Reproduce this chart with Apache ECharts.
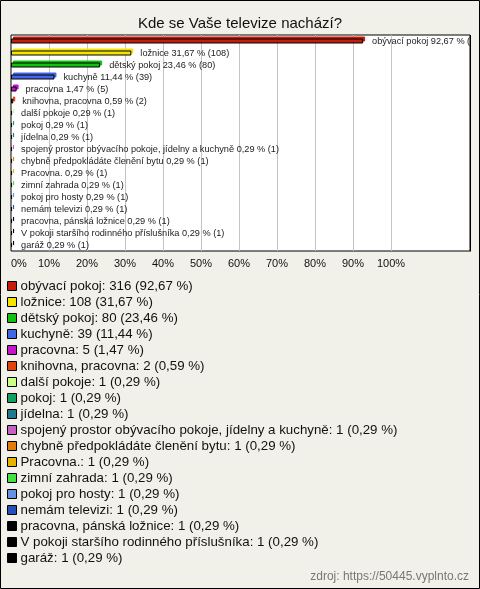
<!DOCTYPE html>
<html>
<head>
<meta charset="utf-8">
<script src="https://cdn.jsdelivr.net/npm/echarts@6/dist/echarts.min.js"></script>
<style>
html,body{margin:0;padding:0;background:#f2f1e9;}
#c{width:480px;height:589px;}
</style>
</head>
<body>
<div id="c"></div>
<script>
// ---- data ----
const categories = [
  'obývací pokoj','ložnice','dětský pokoj','kuchyně','pracovna','knihovna, pracovna',
  'další pokoje','pokoj','jídelna','spojený prostor obývacího pokoje, jídelny a kuchyně',
  'chybně předpokládáte členění bytu','Pracovna.','zimní zahrada','pokoj pro hosty',
  'nemám televizi','pracovna, pánská ložnice','V pokoji staršího rodinného příslušníka','garáž'
];
const counts = [316,108,80,39,5,2,1,1,1,1,1,1,1,1,1,1,1,1];
const percents = [92.67,31.67,23.46,11.44,1.47,0.59,0.29,0.29,0.29,0.29,0.29,0.29,0.29,0.29,0.29,0.29,0.29,0.29];
const colors = ['#c41e0a','#f5e400','#12c012','#4266e6','#c414cc','#e2420e','#c8ff84','#10a062',
  '#1e7a8c','#c462c4','#e27a10','#e8b200','#42e242','#6692e2','#2252b8','#000000','#000000','#000000'];
const xTicks = ['0%','10%','20%','30%','40%','50%','60%','70%','80%','90%','100%'];

const BG = '#f2f1e9';
const FONT = 'Liberation Sans, Arial, sans-serif';
const fmt = v => v.toFixed(2).replace('.', ',');

const series = categories.map((name, i) => {
  const data = categories.map((_, j) => j === i ? percents[i] : '-');
  return {
    name: name,
    type: 'bar',
    stack: 'all',
    barWidth: 5,
    data: data,
    itemStyle: {
      color: colors[i],
      borderColor: '#000',
      borderWidth: 1,
      shadowColor: colors[i],
      shadowBlur: 0,
      shadowOffsetX: 2,
      shadowOffsetY: -2
    },
    label: {
      show: true,
      position: 'right',
      distance: 9,
      fontSize: 9.2,
      fontFamily: FONT,
      color: '#222',
      formatter: () => name + ' ' + fmt(percents[i]) + ' % (' + counts[i] + ')'
    },
    emphasis: { disabled: true }
  };
});

const chart = echarts.init(document.getElementById('c'), null, { renderer: 'canvas' });
chart.setOption({
  backgroundColor: BG,
  animation: false,
  title: [
    {
      text: 'Kde se Vaše televize nachází?',
      left: 'center',
      top: 11,
      textStyle: { fontSize: 15, fontWeight: 'normal', color: '#111', fontFamily: FONT }
    },
    {
      text: 'zdroj: https://50445.vyplnto.cz',
      right: 11,
      bottom: 6,
      padding: 0,
      textStyle: { fontSize: 12, fontWeight: 'normal', color: '#777', fontFamily: FONT }
    }
  ],
  grid: {
    left: 11, right: 10, top: 35, height: 216,
    show: true, backgroundColor: '#fff', borderColor: '#000', borderWidth: 1,
    containLabel: false
  },
  xAxis: {
    type: 'value',
    min: 0, max: 120.8, interval: 10,
    axisLine: { show: false },
    axisTick: { show: false },
    axisLabel: {
      margin: 7,
      fontSize: 11,
      color: '#111',
      fontFamily: FONT,
      alignMinLabel: 'left',
      formatter: v => { const k = Math.round(v / 10); return (Math.abs(v - k * 10) < 1e-6 && k < xTicks.length) ? xTicks[k] : ''; }
    },
    splitLine: {
      show: true,
      lineStyle: {
        color: ['transparent','#c4c4c4','#c4c4c4','#c4c4c4','#c4c4c4','#c4c4c4','#c4c4c4','#c4c4c4','#c4c4c4','#c4c4c4','#c4c4c4','transparent','transparent','transparent'],
        width: 1
      }
    }
  },
  yAxis: {
    type: 'category',
    inverse: true,
    data: categories,
    axisLine: { show: false },
    axisTick: { show: false },
    axisLabel: { show: false },
    splitLine: { show: false }
  },
  legend: {
    orient: 'vertical',
    left: 7,
    top: 278,
    padding: 0,
    itemGap: 0,
    itemWidth: 9,
    itemHeight: 9,
    icon: 'rect',
    selectedMode: false,
    data: categories,
    itemStyle: { borderColor: '#000', borderWidth: 1, shadowBlur: 0, shadowOffsetX: 0, shadowOffsetY: 0, shadowColor: 'transparent' },
    textStyle: {
      fontSize: 13.3,
      lineHeight: 16,
      color: '#111',
      fontFamily: FONT,
      padding: [0, 0, 0, -1]
    },
    formatter: name => {
      const i = categories.indexOf(name);
      return name + ': ' + counts[i] + ' (' + fmt(percents[i]) + ' %)';
    }
  },
  graphic: [
    {
      // mask: clip bar labels at the plot frame's right edge
      type: 'rect',
      silent: true,
      z: 100,
      shape: { x: 470, y: 34, width: 9, height: 218 },
      style: { fill: BG }
    },
    {
      type: 'line',
      silent: true,
      z: 101,
      shape: { x1: 470.5, y1: 35, x2: 470.5, y2: 251.5 },
      style: { stroke: '#000', lineWidth: 1 }
    },
    {
      type: 'rect',
      silent: true,
      z: 102,
      shape: { x: 0.5, y: 0.5, width: 479, height: 588 },
      style: { fill: 'none', stroke: '#000', lineWidth: 1 }
    }
  ],
  series: series
});
</script>
</body>
</html>
